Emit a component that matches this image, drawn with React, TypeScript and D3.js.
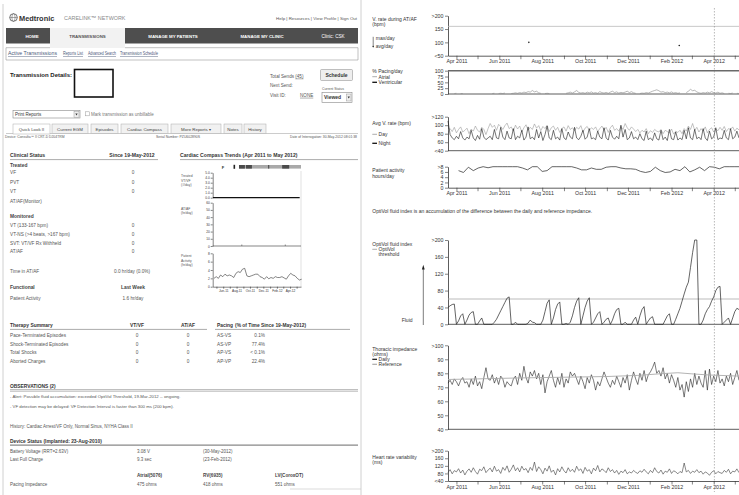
import React, { useEffect, useRef } from 'react';
import * as d3 from 'd3';

const FONT = "'Liberation Sans', Arial, Helvetica, sans-serif";
const parseDay = d3.timeParse('%Y-%m-%d');

// ---------------- right side: daily trends ----------------
// one sample every 3rd day, starting 20-Mar-2011
const trendStart = '2011-03-20';
const trendStepDays = 3;

// V. rate during AT/AF (bpm)
const atafDates = ['2011-07-13', '2012-02-12'];
const atafMaxRate = [100, 88];
const vRateLimit = 160;

// % pacing / day  (null = no data)
const atrialPacing = [
  null, null, null, 2, 3, null, 2, 2, null, null,
  null, null, null, null, null, null, null, null, null, null,
  null, 2, 3, null, 2, 3, 2, 4, null, null,
  2, 3, 5, 3, 6, 4, 8, 6, 10, 8,
  15, 9, 12, 5, 3, null, 2, 3, 2, null,
  null, null, null, null, null, null, 3, 5, 8, 4,
  9, 15, 7, 4, 6, 3, 8, 5, 9, 4,
  6, 3, 10, 6, 4, 7, 3, 8, 12, 6,
  9, 4, 7, 5, 8, 12, 6, 10, 5, 3,
  null, 2, 4, 3, 6, 4, 8, 12, 15, 18,
  14, 8, 10, 6, 8, 5, 9, 4, 6, 3,
  5, null, null, 6, 12, 20, 14, 16, 9, 5,
  3, 6, 4, 8, 5, 10, 6, 4, 8, 3,
  5, 2, null, 3, 2, 4, null, 3, 2,
];
// ventricular pacing, monthly from 20-Mar-2011
const ventPacingStart = '2011-03-20';
const ventPacing = [99.5, 100, 100, 99.6, 100, 100, 100, 99.7, 100, 100, 100, 100, 99.6, 100, 100];

// Avg. V. rate (bpm)
const avgRateDay = [
  88, 92, 85, 95, 82, 90, 96, 84, 88, 93,
  80, 91, 86, 98, 88, 84, 95, 90, 78, 92,
  104, 95, 100, 88, 102, 97, 90, 99, 105, 92,
  96, 86, 100, 91, 98, 84, 94, 101, 88, 95,
  90, 103, 93, 99, 87, 97, 92, 100, 85, 94,
  98, 88, 95, 83, 92, 96, 86, 99, 90, 94,
  87, 95, 91, 99, 84, 93, 97, 88, 94, 90,
  96, 85, 92, 98, 89, 95, 83, 94, 100, 88,
  92, 86, 97, 90, 104, 94, 88, 96, 91, 85,
  90, 82, 88, 84, 92, 80, 87, 83, 90, 86,
  84, 90, 80, 88, 85, 82, 91, 79, 86, 83,
  88, 80, 92, 86, 98, 90, 104, 88, 95, 84,
  92, 86, 96, 82, 90, 94, 84, 91, 87, 95,
  88, 97, 85, 92, 90, 96, 86, 93, 89,
];
const avgRateNight = [
  110, 78, 70, 66, 74, 68, 85, 70, 65, 72,
  68, 88, 70, 64, 76, 67, 92, 72, 66, 70,
  74, 66, 90, 70, 68, 95, 72, 66, 86, 70,
  68, 92, 66, 74, 70, 88, 65, 72, 96, 68,
  72, 66, 90, 70, 85, 64, 78, 98, 70, 66,
  88, 68, 72, 65, 92, 70, 66, 84, 72, 68,
  95, 70, 66, 74, 88, 67, 72, 92, 68, 70,
  66, 86, 72, 68, 94, 70, 65, 88, 72, 67,
  74, 68, 100, 72, 90, 66, 70, 85, 68, 72,
  66, 80, 68, 64, 86, 66, 70, 64, 82, 68,
  65, 88, 66, 72, 64, 90, 68, 66, 84, 65,
  70, 66, 88, 68, 94, 70, 66, 90, 68, 72,
  66, 92, 70, 64, 86, 68, 72, 94, 66, 70,
  68, 88, 70, 66, 92, 68, 72, 86, 70,
];

// Patient activity hours/day, weekly from 4-Apr-2011
const activityStart = '2011-04-04';
const activityHours = [
  6.5, 5.8, 7.8, 6.5, 7.5, 8, 7.6, 8, 8, 8,
  8, 8, 8, 7.5, 6.8, 8, 8, 6.2, 6.5, 8,
  8, 8, 8, 8, 7.5, 6.8, 6.8, 7.5, 7, 7,
  7.8, 8, 8, 7.5, 7.2, 7.2, 7, 6.2, 5.8, 6.2,
  7.8, 6.5, 5.8, 6, 7, 6.5, 8, 6, 6.8, 7.8,
  6.5, 8, 7.8, 7.2, 8, 8, 8, 8,
];

// OptiVol fluid index
const optivolIndex = [
  40, 44, 47, 48, 0, 8, 20, 25, 0, 10,
  22, 28, 30, 0, 0, 8, 15, 0, 0, 0,
  0, 0, 5, 12, 22, 32, 42, 52, 62, 65,
  0, 0, 5, 0, 0, 0, 0, 0, 3, 10,
  5, 4, 0, 0, 0, 10, 30, 50, 58, 0,
  15, 35, 48, 53, 0, 0, 2, 0, 5, 20,
  40, 55, 63, 0, 20, 40, 55, 63, 0, 5,
  15, 25, 30, 0, 5, 12, 15, 0, 10, 25,
  35, 38, 0, 0, 5, 0, 0, 0, 10, 17,
  0, 20, 35, 42, 0, 8, 15, 18, 0, 0,
  0, 0, 0, 10, 20, 25, 0, 0, 12, 25,
  38, 55, 72, 88, 100, 135, 170, 200, 200, 0,
  0, 10, 25, 35, 42, 55, 65, 80, 88, 90,
  0, 5, 10, 15, 0, 15, 30, 38, 35,
];
const optivolThreshold = 60;

// Thoracic impedance (ohms)
const impedanceDaily = [
  73, 75, 72, 76, 74, 71, 75, 77, 73, 74,
  70, 76, 72, 78, 71, 74, 69, 77, 84, 76,
  75, 79, 73, 77, 72, 78, 76, 70, 74, 72,
  71, 76, 78, 72, 80, 75, 85, 77, 73, 81,
  78, 82, 76, 80, 72, 79, 66, 74, 78, 82,
  75, 70, 77, 72, 80, 70, 76, 73, 81, 78,
  80, 76, 72, 78, 74, 69, 77, 73, 79, 75,
  68, 74, 71, 76, 81, 77, 73, 70, 75, 72,
  78, 74, 70, 77, 73, 79, 68, 75, 81, 76,
  72, 80, 75, 82, 74, 79, 81, 84, 88, 80,
  82, 78, 84, 76, 80, 73, 79, 75, 70, 77,
  68, 72, 63, 74, 67, 76, 70, 80, 72, 78,
  73, 70, 82, 68, 83, 72, 78, 74, 82, 73,
  76, 71, 78, 74, 80, 72, 77, 82, 75,
];
const impedanceRefDates = [
  '2011-03-20', '2011-05-01', '2011-07-01', '2011-09-01', '2011-11-01', '2011-12-15',
  '2012-01-20', '2012-02-10', '2012-03-01', '2012-03-25', '2012-05-07',
];
const impedanceRef = [75.6, 76, 76.7, 77.2, 77.7, 78.5, 79.8, 80.4, 79.6, 78.8, 78];

// Heart rate variability (ms)
const hrv = [
  85, 100, 78, 95, 88, 105, 82, 98, 72, 92,
  104, 86, 110, 90, 76, 102, 95, 115, 84, 98,
  108, 88, 118, 92, 100, 80, 112, 96, 120, 86,
  102, 125, 94, 110, 88, 118, 98, 106, 84, 112,
  96, 140, 90, 115, 100, 78, 108, 92, 120, 86,
  98, 72, 105, 88, 115, 94, 82, 110, 90, 102,
  86, 118, 95, 104, 80, 112, 92, 100, 78, 108,
  94, 122, 88, 104, 96, 84, 110, 90, 100, 82,
  96, 75, 92, 84, 100, 78, 88, 82, 96, 86,
  80, 94, 86, 102, 88, 78, 96, 84, 110, 90,
  82, 98, 76, 92, 86, 104, 80, 94, 88, 78,
  90, 84, 135, 88, 96, 80, 92, 86, 100, 84,
  92, 76, 88, 82, 70, 86, 94, 78, 90, 84,
  80, 96, 86, 102, 78, 92, 88, 104, 84,
];
const sessionDate = '2012-04-02';

// ---------------- left side: Cardiac Compass thumbnail ----------------
const compassTreatedStart = '2011-04-15';
const compassTreated = [0, 0, 0, 0, 0, 0, 0, 0, 0, 0, 0, 0, 0, 0];
const compassAtafDates = ['2011-08-25', '2012-03-10'];
const compassAtafHours = [2, 2];
const compassActivityStart = '2011-04-20'; // every 10 days
const compassActivity = [
  2.0, 2.4, 2.0, 2.8, 2.4, 3.0, 2.6, 2.8, 2.6, 2.2,
  3.2, 3.6, 3.4, 4.2, 4.4, 2.6, 2.4, 2.6, 2.8, 3.0,
  3.0, 2.4, 2.2, 1.8, 2.4, 1.9, 2.2, 2.0, 2.4, 2.2,
  2.2, 2.4, 2.1, 1.8, 2.6, 3.2, 2.8, 2.6, 2.0, 1.6,
  1.8,
];
const compassBarMarks = [
  ['2011-08-12', '2011-09-08'],
  ['2011-09-13', '2011-10-10'],
  ['2011-12-23', '2011-12-28'],
  ['2012-02-25', '2012-03-28'],
];

const clinicalTreated = [['VF', '0'], ['PVT', '0'], ['VT', '0'], ['AT/AF(Monitor)', '']];
const clinicalMonitored = [
  ['VT (133-167 bpm)', '0'],
  ['VT-NS (>4 beats, >167 bpm)', '0'],
  ['SVT: VT/VF Rx Withheld', '0'],
  ['AT/AF', '0'],
];
const therapyRows = [
  ['Pace-Terminated Episodes', '0', '0'],
  ['Shock-Terminated Episodes', '0', '0'],
  ['Total Shocks', '0', '0'],
  ['Aborted Charges', '0', '0'],
];
const pacingModes = ['AS-VS', 'AS-VP', 'AP-VS', 'AP-VP'];
const pacingPercent = ['0.1%', '77.4%', '< 0.1%', '22.4%'];
const tabNames = ['Quick Look II', 'Current EGM', 'Episodes', 'Cardiac Compass', 'More Reports  \u25BE', 'Notes', 'History'];
const tabEdges = [13, 50, 52, 88, 91, 118, 121, 168, 171, 221, 224, 242, 244, 266];
const subNavLinks = ['Active Transmissions', 'Reports List', 'Advanced Search', 'Transmission Schedule'];
const subNavEdges = [8, 57, 63, 83, 88, 116, 120, 158];

function styleAxis(a: any, size = 5.3) {
  a.attr('font-size', null).attr('font-family', null);
  a.select('.domain').attr('stroke', '#333').attr('stroke-width', 0.8);
  a.selectAll('.tick line').attr('stroke', '#333').attr('stroke-width', 0.6);
  a.selectAll('.tick text').attr('font-size', size).attr('font-family', FONT).attr('fill', '#333');
}

function drawTrends(root: any) {
  const X0 = 448;
  const X1 = 739;
  const x = d3.scaleTime().domain([parseDay('2011-03-20')!, parseDay('2012-05-07')!]).range([X0, X1]);
  const t0 = parseDay(trendStart)!;
  const xi = (i: number) => x(d3.timeDay.offset(t0, i * trendStepDays));
  const months = d3.timeMonth.range(parseDay('2011-04-01')!, parseDay('2012-06-01')!);
  const monthFmt = d3.timeFormat('%b %Y');

  const panel = (top: number, bot: number, domain: number[], ticks: number[], lo: boolean, hi: boolean) => {
    const y = d3.scaleLinear().domain(domain).range([bot, top]);
    const fmt = (v: any) => (hi && v === domain[1] ? '>' : lo && v === domain[0] ? '<' : '') + v;
    const a = root
      .append('g')
      .attr('transform', `translate(${X0},0)`)
      .call(d3.axisLeft(y).tickValues(ticks).tickFormat(fmt).tickSize(3).tickSizeOuter(0).tickPadding(1.5));
    styleAxis(a);
    return y;
  };
  const baseLine = (yPos: number) =>
    root.append('line').attr('x1', X0).attr('x2', X1).attr('y1', yPos).attr('y2', yPos)
      .attr('stroke', '#333').attr('stroke-width', 0.8);
  const timeAxis = (yPos: number) => {
    const a = root
      .append('g')
      .attr('transform', `translate(0,${yPos})`)
      .call(
        d3.axisBottom(x).tickValues(months)
          .tickFormat((d: any, i: number) => (i % 2 ? '' : monthFmt(d)))
          .tickSize(3.5).tickSizeOuter(0).tickPadding(0.3)
      );
    styleAxis(a);
  };
  const series = (data: (number | null)[], xf: (i: number) => number, y: any, stroke: string, w: number, cap?: number) =>
    root
      .append('path')
      .datum(data)
      .attr('fill', 'none')
      .attr('stroke', stroke)
      .attr('stroke-width', w)
      .attr('stroke-linejoin', 'round')
      .attr(
        'd',
        d3.line<number | null>()
          .defined((d) => d != null)
          .x((d, i) => xf(i))
          .y((d) => y(cap != null ? Math.min(d as number, cap) : (d as number)))
      );

  // V. rate during AT/AF
  const yV = panel(15.7, 55.7, [50, 200], [50, 100, 150, 200], true, true);
  root.append('line').attr('x1', X0).attr('x2', X1).attr('y1', yV(vRateLimit)).attr('y2', yV(vRateLimit))
    .attr('stroke', '#bbb').attr('stroke-width', 0.8);
  timeAxis(55.7);
  root.append('g').selectAll('circle').data(atafDates).enter().append('circle')
    .attr('cx', (d: string) => x(parseDay(d)!))
    .attr('cy', (d: string, i: number) => yV(atafMaxRate[i]))
    .attr('r', 0.8).attr('fill', '#222');

  // % pacing
  const yP = panel(70.7, 94, [0, 100], [0, 25, 50, 75, 100], false, false);
  baseLine(94);
  const v0 = parseDay(ventPacingStart)!;
  series(ventPacing, (i) => x(d3.timeMonth.offset(v0, i)), yP, '#6a6a6a', 1.6);
  series(atrialPacing, xi, yP, '#888', 0.6);

  // Avg V rate
  const yR = panel(116.7, 150.7, [40, 120], [40, 60, 80, 100, 120], true, true);
  baseLine(150.7);
  series(avgRateDay, xi, yR, '#9a9a9a', 0.6, 120);
  series(avgRateNight, xi, yR, '#1a1a1a', 0.6, 120);

  // Patient activity
  const yA = panel(166.7, 187.7, [0, 8], [0, 2, 4, 6, 8], false, true);
  timeAxis(187.7);
  const a0 = parseDay(activityStart)!;
  series(activityHours, (i) => x(d3.timeDay.offset(a0, i * 7)), yA, '#222', 0.7, 8);

  // OptiVol
  const yO = panel(240, 324.3, [0, 200], [0, 40, 80, 120, 160, 200], false, true);
  baseLine(324.3);
  root.append('line').attr('x1', X0).attr('x2', X1).attr('y1', yO(optivolThreshold)).attr('y2', yO(optivolThreshold))
    .attr('stroke', '#aaa').attr('stroke-width', 0.8);
  series(optivolIndex, xi, yO, '#222', 0.7, 200);

  // Thoracic impedance
  const yI = panel(345.3, 429.3, [40, 100], [40, 50, 60, 70, 80, 90, 100], false, true);
  baseLine(429.3);
  series(impedanceDaily, xi, yI, '#222', 0.6, 100);
  series(impedanceRef, (i) => x(parseDay(impedanceRefDates[i])!), yI, '#aaa', 0.9);

  // HRV
  const yH = panel(450.7, 481, [40, 200], [40, 80, 120, 160, 200], true, true);
  timeAxis(481);
  series(hrv, xi, yH, '#3a3a3a', 0.6, 200);

  // session marker
  const xs = x(parseDay(sessionDate)!);
  root.append('line').attr('x1', xs).attr('x2', xs).attr('y1', 8).attr('y2', 492)
    .attr('stroke', '#888').attr('stroke-width', 0.6).attr('stroke-dasharray', '1.5,1.5');
}

function drawCompass(root: any) {
  const L = 212.7;
  const R = 301;
  const x = d3.scaleTime().domain([parseDay('2011-04-14')!, parseDay('2012-05-21')!]).range([L, R]);
  const leftAxis = (y: any, ticks: number[]) => {
    const a = root.append('g').attr('transform', `translate(${L},0)`)
      .call(d3.axisLeft(y).tickValues(ticks).tickSize(2).tickSizeOuter(0).tickPadding(1));
    styleAxis(a, 3.2);
    a.select('.domain').attr('stroke-width', 0.6);
  };
  // event bar on top
  root.append('text').attr('x', 223).attr('y', 168.5).attr('font-size', 4).attr('font-weight', 'bold')
    .attr('font-family', FONT).attr('fill', '#333').attr('text-anchor', 'middle').text('F');
  root.append('rect').attr('x', x(parseDay('2011-07-18')!)).attr('y', 164.8).attr('width', 1.6).attr('height', 4)
    .attr('fill', '#222');
  root.append('rect').attr('x', 239).attr('y', 165).attr('width', R - 239).attr('height', 3.6).attr('fill', '#a9a9a9');
  root.append('g').selectAll('rect').data(compassBarMarks).enter().append('rect')
    .attr('x', (d: string[]) => x(parseDay(d[0])!))
    .attr('width', (d: string[]) => x(parseDay(d[1])!) - x(parseDay(d[0])!))
    .attr('y', 165).attr('height', 3.6).attr('fill', '#4a4a4a');
  // plot box right edge
  root.append('line').attr('x1', R).attr('x2', R).attr('y1', 171).attr('y2', 287).attr('stroke', '#ccc').attr('stroke-width', 0.6);

  // treated VT/VF
  const yT = d3.scaleLinear().domain([0, 5]).range([197.7, 172.7]);
  leftAxis(yT, [0, 1, 2, 3, 4, 5]);
  const t0 = parseDay(compassTreatedStart)!;
  root.append('path').datum(compassTreated).attr('fill', 'none').attr('stroke', '#111').attr('stroke-width', 1.3)
    .attr('d', d3.line<number>().x((d, i) => x(d3.timeMonth.offset(t0, i))).y((d) => yT(d)));

  // AT/AF hr/day
  const yF = d3.scaleLinear().domain([0, 60]).range([246, 202.7]);
  leftAxis(yF, [0, 10, 20, 30, 40, 50, 60]);
  root.append('line').attr('x1', L).attr('x2', R).attr('y1', 246).attr('y2', 246).attr('stroke', '#333').attr('stroke-width', 0.6);
  root.append('g').selectAll('rect').data(compassAtafDates).enter().append('rect')
    .attr('x', (d: string) => x(parseDay(d)!) - 0.4)
    .attr('y', (d: string, i: number) => yF(compassAtafHours[i]))
    .attr('width', 0.8)
    .attr('height', (d: string, i: number) => yF(0) - yF(compassAtafHours[i]))
    .attr('fill', '#666');

  // patient activity hr/day
  const yA = d3.scaleLinear().domain([0, 8]).range([286.7, 253.3]);
  leftAxis(yA, [0, 2, 4, 6, 8]);
  const months = d3.timeMonth.range(parseDay('2011-05-01')!, parseDay('2012-05-02')!);
  const fmt = d3.timeFormat('%b-%y');
  const ax = root.append('g').attr('transform', 'translate(0,286.7)')
    .call(d3.axisBottom(x).tickValues(months).tickFormat((d: any, i: number) => (i % 2 === 1 ? fmt(d) : ''))
      .tickSize(2).tickSizeOuter(0).tickPadding(1));
  styleAxis(ax, 3.2);
  ax.select('.domain').attr('stroke-width', 0.6);
  const c0 = parseDay(compassActivityStart)!;
  root.append('path').datum(compassActivity).attr('fill', 'none').attr('stroke', '#333').attr('stroke-width', 0.6)
    .attr('d', d3.line<number>().x((d, i) => x(d3.timeDay.offset(c0, i * 10))).y((d) => yA(d)));
}

const T = ({ x, y, s = 4.7, b = false, a = 'start', c = '#555', u = false, w, children }: any) => (
  <text
    x={x}
    y={y}
    fontSize={s}
    fontWeight={b ? 'bold' : 'normal'}
    textAnchor={a}
    fill={c}
    textDecoration={u ? 'underline' : undefined}
    textLength={w}
    lengthAdjust={w ? 'spacingAndGlyphs' : undefined}
  >
    {children}
  </text>
);

const LegendLine = ({ y, stroke, w }: any) => (
  <line x1={372.3} x2={377} y1={y} y2={y} stroke={stroke} strokeWidth={w} />
);

export default function App() {
  const ref = useRef<SVGGElement>(null);

  useEffect(() => {
    const root = d3.select(ref.current);
    root.selectAll('*').remove();
    drawTrends(root);
    drawCompass(root);
  }, []);

  return (
    <svg
      width={739}
      height={495}
      style={{ position: 'absolute', left: 0, top: 0, background: '#fff' }}
      fontFamily={FONT}
    >
      <rect x={0} y={0} width={739} height={495} fill="#fff" />

      {/* ---------- left: CareLink screen ---------- */}
      <line x1={3} y1={4} x2={3} y2={495} stroke="#c4c4c4" strokeWidth={0.8} />
      <line x1={361} y1={0} x2={361} y2={495} stroke="#c4c4c4" strokeWidth={0.8} />

      <circle cx={13.5} cy={17.5} r={3.8} fill="none" stroke="#555" strokeWidth={0.8} />
      <ellipse cx={13.5} cy={17.5} rx={1.6} ry={3.8} fill="none" stroke="#555" strokeWidth={0.5} />
      <line x1={9.7} y1={17.5} x2={17.3} y2={17.5} stroke="#555" strokeWidth={0.5} />
      <T x={19} y={20.6} s={7.4} b c="#333">Medtronic</T>
      <T x={64} y={20.3} s={5.4} c="#8a8a8a">CARELINK™ NETWORK</T>
      <T x={357} y={19.8} s={4.4} a="end">Help | Resources | View Profile | Sign Out</T>

      <rect x={6} y={28} width={352} height={15.5} fill="#4e4e4e" />
      <rect x={50} y={28} width={75} height={20} fill="#f2f2f2" />
      <T x={32} y={37.6} s={4.4} b a="middle" c="#fff">HOME</T>
      <T x={87.5} y={37.6} s={4.4} b a="middle" c="#555">TRANSMISSIONS</T>
      <T x={173} y={37.6} s={4.4} b a="middle" c="#fff">MANAGE MY PATIENTS</T>
      <T x={262} y={37.6} s={4.4} b a="middle" c="#fff">MANAGE MY CLINIC</T>
      <T x={333} y={37.6} s={4.6} a="middle" c="#fff">Clinic:  CSK</T>

      <line x1={6} y1={47.7} x2={50} y2={47.7} stroke="#999" strokeWidth={0.6} />
      <line x1={125} y1={47.7} x2={358} y2={47.7} stroke="#999" strokeWidth={0.6} />
      <line x1={6} y1={60} x2={358} y2={60} stroke="#999" strokeWidth={0.6} />
      <line x1={6} y1={47.7} x2={6} y2={60} stroke="#999" strokeWidth={0.6} />
      <line x1={358} y1={47.7} x2={358} y2={60} stroke="#999" strokeWidth={0.6} />
      {subNavLinks.map((name, i) => (
        <T
          key={name}
          x={subNavEdges[i * 2]}
          y={55}
          s={4.5}
          u
          c="#4a5a7a"
          w={subNavEdges[i * 2 + 1] - subNavEdges[i * 2]}
        >
          {name}
        </T>
      ))}

      <T x={10} y={77.2} s={6} b c="#222">Transmission Details:</T>
      <rect x={74.5} y={69.5} width={38.5} height={27.5} fill="#fff" stroke="#111" strokeWidth={1.6} />
      <text x={270} y={77.7} fontSize={4.6} fill="#555">
        Total Sends <tspan textDecoration="underline">(45)</tspan>
      </text>
      <rect x={320.5} y={69.5} width={32} height={11} rx={1} fill="#eee" stroke="#999" strokeWidth={0.6} />
      <T x={336.5} y={76.8} s={5} b a="middle" c="#333">Schedule</T>
      <T x={270} y={86.8} s={4.6}>Next Send:</T>
      <T x={270} y={96.8} s={4.6}>Visit ID:</T>
      <T x={300} y={96.8} s={4.6} u>NONE</T>
      <T x={322} y={89.6} s={3.4}>Current Status</T>
      <rect x={322} y={92.5} width={30} height={10} fill="#fff" stroke="#888" strokeWidth={0.6} />
      <T x={324} y={99.4} s={5} b c="#333">Viewed</T>
      <rect x={346.5} y={94} width={4.5} height={7} fill="#eee" stroke="#888" strokeWidth={0.4} />
      <path d="M347.6,96.6 L349.9,96.6 L348.75,98.4 Z" fill="#333" />

      <rect x={13} y={110.5} width={67} height={7.5} fill="#fff" stroke="#888" strokeWidth={0.6} />
      <T x={15} y={116} s={4.5} c="#333">Print Reports</T>
      <rect x={74} y={111.3} width={5} height={6} fill="#eee" stroke="#888" strokeWidth={0.4} />
      <path d="M75.3,113.6 L77.7,113.6 L76.5,115.4 Z" fill="#333" />
      <rect x={85.5} y={111.8} width={4} height={4} fill="#fff" stroke="#999" strokeWidth={0.5} />
      <T x={91} y={115.8} s={4.5} c="#777">Mark transmission as unbillable</T>

      <line x1={6} y1={133.5} x2={358} y2={133.5} stroke="#aaa" strokeWidth={0.6} />
      {tabNames.map((name, i) => (
        <g key={name}>
          <rect
            x={tabEdges[i * 2]}
            y={124}
            width={tabEdges[i * 2 + 1] - tabEdges[i * 2]}
            height={i === 0 ? 10 : 9.5}
            fill={i === 0 ? '#fff' : '#f1f1f1'}
            stroke="#aaa"
            strokeWidth={0.5}
          />
          <T x={(tabEdges[i * 2] + tabEdges[i * 2 + 1]) / 2} y={130.6} s={4.4} a="middle" c="#444">
            {name}
          </T>
        </g>
      ))}

      <T x={5} y={138.2} s={3.4}>Device: Consulta™ II CRT-D D204TRM</T>
      <T x={178} y={138.2} s={3.4} a="middle">Serial Number: PZU602890S</T>
      <T x={357} y={138.2} s={3.4} a="end">Date of Interrogation: 30-May-2012 08:01:38</T>

      {/* clinical status */}
      <T x={10} y={156.8} s={5.1} b c="#333">Clinical Status</T>
      <T x={132} y={156.8} s={5.1} b a="middle" c="#333">Since 19-May-2012</T>
      <line x1={10} y1={159.6} x2={158} y2={159.6} stroke="#888" strokeWidth={0.7} />
      <T x={180} y={156.8} s={5.1} b c="#333">Cardiac Compass Trends (Apr 2011 to May 2012)</T>
      <line x1={180} y1={159.6} x2={358} y2={159.6} stroke="#888" strokeWidth={0.7} />

      <T x={10} y={166.7} s={4.9} b c="#444">Treated</T>
      {clinicalTreated.map((r, i) => (
        <g key={r[0]}>
          <T x={10} y={174.4 + i * 9.4}>{r[0]}</T>
          <T x={133} y={174.4 + i * 9.4} a="middle">{r[1]}</T>
        </g>
      ))}
      <T x={10} y={218.4} s={4.9} b c="#444">Monitored</T>
      {clinicalMonitored.map((r, i) => (
        <g key={r[0]}>
          <T x={10} y={227.3 + i * 8.7}>{r[0]}</T>
          <T x={133} y={227.3 + i * 8.7} a="middle">{r[1]}</T>
        </g>
      ))}
      <T x={10} y={272.6}>Time in AT/AF</T>
      <T x={132} y={272.6} a="middle">0.0 hr/day (0.0%)</T>
      <T x={10} y={289.4} s={4.9} b c="#444">Functional</T>
      <T x={133} y={289.4} s={4.9} b a="middle" c="#444">Last Week</T>
      <T x={10} y={300}>Patient Activity</T>
      <T x={133} y={300} a="middle">1.6 hr/day</T>

      {/* compass labels */}
      <T x={181} y={177.3} s={3.4}>Treated</T>
      <T x={181} y={181.8} s={3.4}>VT/VF</T>
      <T x={181} y={186.3} s={3.4}>(#/day)</T>
      <T x={181} y={209.6} s={3.4}>AT/AF</T>
      <T x={181} y={213.8} s={3.4}>(hr/day)</T>
      <T x={181} y={257.3} s={3.4}>Patient</T>
      <T x={181} y={261.5} s={3.4}>Activity</T>
      <T x={181} y={265.7} s={3.4}>(hr/day)</T>

      {/* therapy summary */}
      <T x={10} y={326.8} s={4.9} b c="#333">Therapy Summary</T>
      <T x={137} y={326.8} s={4.9} b a="middle" c="#333">VT/VF</T>
      <T x={188} y={326.8} s={4.9} b a="middle" c="#333">AT/AF</T>
      <T x={217} y={326.8} s={4.9} b c="#333">Pacing</T>
      <T x={235} y={326.8} s={4.9} b c="#333">(% of Time Since 19-May-2012)</T>
      <line x1={10} y1={329.4} x2={207} y2={329.4} stroke="#888" strokeWidth={0.7} />
      <line x1={215} y1={329.4} x2={350} y2={329.4} stroke="#888" strokeWidth={0.7} />
      {therapyRows.map((r, i) => (
        <g key={r[0]}>
          <T x={10} y={336.6 + i * 8.9}>{r[0]}</T>
          <T x={137} y={336.6 + i * 8.9} a="middle">{r[1]}</T>
          <T x={188} y={336.6 + i * 8.9} a="middle">{r[2]}</T>
          <T x={217} y={336.6 + i * 8.9}>{pacingModes[i]}</T>
          <T x={265} y={336.6 + i * 8.9} a="end">{pacingPercent[i]}</T>
        </g>
      ))}

      {/* observations */}
      <T x={10} y={387.5} s={4.9} b c="#333">OBSERVATIONS (2)</T>
      <line x1={10} y1={389.6} x2={358} y2={389.6} stroke="#888" strokeWidth={0.6} />
      <line x1={10} y1={391.2} x2={358} y2={391.2} stroke="#888" strokeWidth={0.6} />
      <T x={10} y={398.3} s={4.3}>- Alert: Possible fluid accumulation: exceeded OptiVol Threshold, 19-Mar-2012 -- ongoing.</T>
      <T x={10} y={408.3} s={4.3}>- VF detection may be delayed: VF Detection Interval is faster than 300 ms (200 bpm).</T>
      <T x={10} y={428.3} s={4.5}>History: Cardiac Arrest/VF Only, Normal Sinus, NYHA Class II</T>

      {/* device status */}
      <T x={10} y={442.8} s={4.9} b c="#333">Device Status (Implanted: 23-Aug-2010)</T>
      <line x1={10} y1={445.2} x2={358} y2={445.2} stroke="#888" strokeWidth={1.2} />
      <T x={10} y={453.3} s={4.5}>Battery Voltage (RRT=2.63V)</T>
      <T x={137} y={453.3} s={4.5}>3.08 V</T>
      <T x={203} y={453.3} s={4.5}>(30-May-2012)</T>
      <T x={10} y={461} s={4.5}>Last Full Charge</T>
      <T x={137} y={461} s={4.5}>9.3 sec</T>
      <T x={203} y={461} s={4.5}>(23-Feb-2012)</T>
      <T x={137} y={476.8} s={4.6} b c="#444">Atrial(5076)</T>
      <T x={203} y={476.8} s={4.6} b c="#444">RV(6935)</T>
      <T x={275} y={476.8} s={4.6} b c="#444">LV(CoroxOT)</T>
      <T x={10} y={486} s={4.5}>Pacing Impedance</T>
      <T x={137} y={486} s={4.5}>475 ohms</T>
      <T x={203} y={486} s={4.5}>418 ohms</T>
      <T x={275} y={486} s={4.5}>551 ohms</T>
      <line x1={290} y1={489} x2={361} y2={489} stroke="#c4c4c4" strokeWidth={0.6} />

      {/* ---------- right: trend labels ---------- */}
      <g fill="#333" fontSize={5}>
        <text x={372.3} y={20.8}>V. rate during AT/AF</text>
        <text x={372.3} y={25.8}>(bpm)</text>
        <line x1={373.2} x2={373.2} y1={36.8} y2={46.5} stroke="#333" strokeWidth={0.6} />
        <circle cx={373.2} cy={46.6} r={0.8} fill="#333" />
        <text x={375.8} y={40}>max/day</text>
        <text x={375.8} y={47.8}>avg/day</text>

        <text x={372.3} y={72.5}>% Pacing/day</text>
        <LegendLine y={76.7} stroke="#777" w={0.6} />
        <text x={378.6} y={78.5}>Atrial</text>
        <LegendLine y={82.3} stroke="#111" w={1.3} />
        <text x={378.6} y={84.1}>Ventricular</text>

        <text x={372.3} y={125.1}>Avg V. rate (bpm)</text>
        <LegendLine y={134.3} stroke="#999" w={0.8} />
        <text x={378.6} y={136.1}>Day</text>
        <LegendLine y={143.3} stroke="#111" w={1.3} />
        <text x={378.6} y={145.1}>Night</text>

        <text x={372.3} y={171.8}>Patient activity</text>
        <text x={372.3} y={177.5}>hours/day</text>

        <text x={372.3} y={212.8}>
          OptiVol fluid index is an accumulation of the difference between the daily and reference impedance.
        </text>

        <text x={372.3} y={246.1}>OptiVol fluid index</text>
        <LegendLine y={249.3} stroke="#999" w={0.8} />
        <text x={378.6} y={251.1}>OptiVol</text>
        <text x={378.6} y={256.1}>threshold</text>
        <line x1={423.3} x2={423.3} y1={268.5} y2={325} stroke="#222" strokeWidth={0.6} />
        <path d="M423.3,264.8 L421.9,269.6 L424.7,269.6 Z" fill="#222" />
        <text x={401.7} y={321.8}>Fluid</text>

        <text x={372.3} y={351.1}>Thoracic impedance</text>
        <text x={372.3} y={356.1}>(ohms)</text>
        <LegendLine y={359.3} stroke="#111" w={1.2} />
        <text x={378.6} y={361.1}>Daily</text>
        <LegendLine y={364.3} stroke="#aaa" w={1.2} />
        <text x={378.6} y={366.1}>Reference</text>

        <text x={372.3} y={458.5}>Heart rate variability</text>
        <text x={372.3} y={463.5}>(ms)</text>
      </g>

      <g ref={ref} />
    </svg>
  );
}
